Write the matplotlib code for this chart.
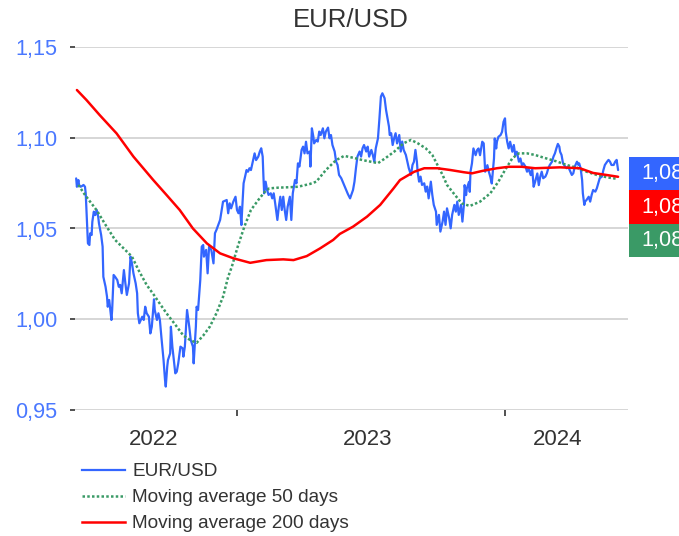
import matplotlib
matplotlib.use('Agg')
import matplotlib.pyplot as plt
from matplotlib import font_manager
from matplotlib.patches import Rectangle
from matplotlib.lines import Line2D
from matplotlib.ticker import FuncFormatter, FixedLocator
import pandas as pd

names = {f.name for f in font_manager.fontManager.ttflist}
if 'Liberation Sans Narrow' in names:
    FONT, K = 'Liberation Sans Narrow', 1.0
else:
    FONT, K = 'Liberation Sans', 0.82
plt.rcParams['font.family'] = [FONT, 'DejaVu Sans']

# ---------------- data ----------------
title = "EUR/USD"
series_labels = ["EUR/USD", "Moving average 50 days", "Moving average 200 days"]
year_labels = ["2022", "2023", "2024"]
year_label_dates = ["2022-09-09", "2023-06-28", "2024-03-13"]
year_boundaries = ["2023-01-01", "2024-01-01"]
y_ticks = [0.95, 1.00, 1.05, 1.10, 1.15]

eur_dates = [
    "2022-05-27", "2022-05-28", "2022-05-30", "2022-05-31", "2022-06-02", "2022-06-04", "2022-06-06",
    "2022-06-08", "2022-06-09", "2022-06-11", "2022-06-12", "2022-06-14", "2022-06-15", "2022-06-17",
    "2022-06-18", "2022-06-20", "2022-06-22", "2022-06-24", "2022-06-26", "2022-06-27", "2022-06-30",
    "2022-07-02", "2022-07-03", "2022-07-06", "2022-07-08", "2022-07-09", "2022-07-11", "2022-07-14",
    "2022-07-15", "2022-07-17", "2022-07-19", "2022-07-22", "2022-07-24", "2022-07-26", "2022-07-28",
    "2022-07-31", "2022-08-02", "2022-08-04", "2022-08-07", "2022-08-09", "2022-08-11", "2022-08-13",
    "2022-08-16", "2022-08-18", "2022-08-19", "2022-08-21", "2022-08-25", "2022-08-27", "2022-08-29",
    "2022-08-31", "2022-09-03", "2022-09-05", "2022-09-07", "2022-09-10", "2022-09-11", "2022-09-14",
    "2022-09-16", "2022-09-18", "2022-09-20", "2022-09-23", "2022-09-25", "2022-09-26", "2022-09-28",
    "2022-09-29", "2022-10-02", "2022-10-03", "2022-10-05", "2022-10-07", "2022-10-09", "2022-10-11",
    "2022-10-13", "2022-10-16", "2022-10-19", "2022-10-20", "2022-10-22", "2022-10-25", "2022-10-28",
    "2022-10-30", "2022-11-02", "2022-11-03", "2022-11-06", "2022-11-07", "2022-11-09", "2022-11-12",
    "2022-11-14", "2022-11-16", "2022-11-17", "2022-11-20", "2022-11-22", "2022-11-24", "2022-11-27",
    "2022-11-30", "2022-12-02", "2022-12-04", "2022-12-09", "2022-12-13", "2022-12-18", "2022-12-20",
    "2022-12-22", "2022-12-24", "2022-12-27", "2022-12-30",
    "2023-01-01", "2023-01-03", "2023-01-05", "2023-01-07", "2023-01-08", "2023-01-10", "2023-01-12",
    "2023-01-14", "2023-01-16", "2023-01-18", "2023-01-20", "2023-01-23", "2023-01-25", "2023-01-27",
    "2023-01-30", "2023-02-01", "2023-02-03", "2023-02-05", "2023-02-06", "2023-02-07", "2023-02-09",
    "2023-02-11", "2023-02-13", "2023-02-16", "2023-02-18", "2023-02-20", "2023-02-22", "2023-02-25",
    "2023-02-27", "2023-03-01", "2023-03-03", "2023-03-05", "2023-03-07", "2023-03-09", "2023-03-11",
    "2023-03-14", "2023-03-16", "2023-03-18", "2023-03-21", "2023-03-23", "2023-03-25", "2023-03-27",
    "2023-03-30", "2023-04-01", "2023-04-03", "2023-04-05", "2023-04-07", "2023-04-10", "2023-04-11",
    "2023-04-13", "2023-04-15", "2023-04-16", "2023-04-19", "2023-04-21", "2023-04-23", "2023-04-25",
    "2023-04-28", "2023-04-30", "2023-05-02", "2023-05-05", "2023-05-07", "2023-05-09", "2023-05-11",
    "2023-05-14", "2023-05-16", "2023-05-18", "2023-05-20", "2023-05-23", "2023-05-25", "2023-05-27",
    "2023-06-01", "2023-06-04", "2023-06-08", "2023-06-10", "2023-06-12", "2023-06-14", "2023-06-17",
    "2023-06-19", "2023-06-21", "2023-06-23", "2023-06-26", "2023-06-28", "2023-06-30", "2023-07-03",
    "2023-07-05", "2023-07-07", "2023-07-09", "2023-07-12", "2023-07-14", "2023-07-16", "2023-07-18",
    "2023-07-21", "2023-07-23", "2023-07-25", "2023-07-27", "2023-07-28", "2023-07-30", "2023-08-01",
    "2023-08-03", "2023-08-05", "2023-08-07", "2023-08-10", "2023-08-12", "2023-08-14", "2023-08-16",
    "2023-08-19", "2023-08-21", "2023-08-23", "2023-08-26", "2023-08-28", "2023-08-30", "2023-09-01",
    "2023-09-03", "2023-09-04", "2023-09-06", "2023-09-08", "2023-09-10", "2023-09-13", "2023-09-15",
    "2023-09-17", "2023-09-19", "2023-09-22", "2023-09-24", "2023-09-26", "2023-09-29", "2023-09-30",
    "2023-10-02", "2023-10-03", "2023-10-05", "2023-10-08", "2023-10-10", "2023-10-12", "2023-10-14",
    "2023-10-17", "2023-10-19", "2023-10-21", "2023-10-24", "2023-10-26", "2023-10-28", "2023-10-30",
    "2023-11-02", "2023-11-04", "2023-11-06", "2023-11-07", "2023-11-09", "2023-11-10", "2023-11-13",
    "2023-11-14", "2023-11-15", "2023-11-17", "2023-11-19", "2023-11-22", "2023-11-24", "2023-11-26",
    "2023-11-28", "2023-12-01", "2023-12-03", "2023-12-05", "2023-12-08", "2023-12-10", "2023-12-12",
    "2023-12-14", "2023-12-17", "2023-12-18", "2023-12-20", "2023-12-21", "2023-12-23", "2023-12-26",
    "2023-12-28", "2023-12-30",
    "2024-01-01", "2024-01-02", "2024-01-04", "2024-01-06", "2024-01-08", "2024-01-11", "2024-01-13",
    "2024-01-15", "2024-01-17", "2024-01-20", "2024-01-22", "2024-01-24", "2024-01-26", "2024-01-29",
    "2024-01-31", "2024-02-02", "2024-02-05", "2024-02-07", "2024-02-09", "2024-02-11", "2024-02-14",
    "2024-02-16", "2024-02-18", "2024-02-20", "2024-02-22", "2024-02-25", "2024-02-27", "2024-02-29",
    "2024-03-02", "2024-03-05", "2024-03-07", "2024-03-09", "2024-03-11", "2024-03-13", "2024-03-15",
    "2024-03-16", "2024-03-18", "2024-03-20", "2024-03-23", "2024-03-25", "2024-03-27", "2024-03-30",
    "2024-04-01", "2024-04-03", "2024-04-05", "2024-04-08", "2024-04-10", "2024-04-11", "2024-04-13",
    "2024-04-15", "2024-04-16", "2024-04-18", "2024-04-19", "2024-04-21", "2024-04-24", "2024-04-26",
    "2024-04-28", "2024-04-30", "2024-05-03", "2024-05-05", "2024-05-07", "2024-05-09", "2024-05-12",
    "2024-05-14", "2024-05-16", "2024-05-19", "2024-05-21", "2024-05-23", "2024-05-25", "2024-05-28",
    "2024-05-30", "2024-06-01", "2024-06-03",
]
eur_values = [
    1.0776, 1.0730, 1.0767, 1.0740, 1.0730, 1.0734, 1.0740,
    1.0730, 1.0694, 1.0510, 1.0418, 1.0409, 1.0473, 1.0464,
    1.0537, 1.0593, 1.0574, 1.0602, 1.0565, 1.0529, 1.0464,
    1.0400, 1.0234, 1.0179, 1.0124, 1.0069, 1.0106, 0.9996,
    1.0051, 1.0244, 1.0234, 1.0216, 1.0179, 1.0189, 1.0143,
    1.0271, 1.0198, 1.0134, 1.0198, 1.0345, 1.0308, 1.0253,
    1.0198, 1.0143, 1.0033, 0.9978, 1.0014, 0.9996, 1.0069,
    1.0033, 1.0014, 0.9922, 0.9959, 1.0110, 1.0051, 0.9996,
    1.0033, 0.9996, 0.9904, 0.9775, 0.9665, 0.9629, 0.9739,
    0.9775, 0.9812, 0.9959, 0.9849, 0.9775, 0.9702, 0.9711,
    0.9757, 0.9849, 0.9840, 0.9794, 0.9849, 1.0051, 0.9959,
    0.9886, 0.9849, 0.9757, 0.9959, 1.0069, 1.0051, 1.0216,
    1.0400, 1.0409, 1.0345, 1.0382, 1.0253, 1.0400, 1.0382,
    1.0308, 1.0474, 1.0492, 1.0547, 1.0648, 1.0657, 1.0584,
    1.0639, 1.0611, 1.0648, 1.0675,
    1.0602, 1.0584, 1.0620, 1.0519, 1.0602, 1.0749, 1.0786,
    1.0822, 1.0813, 1.0832, 1.0822, 1.0877, 1.0914, 1.0877,
    1.0896, 1.0923, 1.0942, 1.0896, 1.0786, 1.0694, 1.0758,
    1.0712, 1.0685, 1.0694, 1.0666, 1.0694, 1.0639, 1.0547,
    1.0620, 1.0675, 1.0602, 1.0675, 1.0602, 1.0547, 1.0620,
    1.0675, 1.0547, 1.0694, 1.0767, 1.0749, 1.0859, 1.0841,
    1.0933, 1.0951, 1.0914, 1.0978, 1.0914, 1.0924, 1.0841,
    1.1052, 1.1006, 1.0969, 1.0988, 1.0979, 1.1034, 1.1015,
    1.1052, 1.0997, 1.1034, 1.1056, 1.0997, 1.1015, 1.0960,
    1.0924, 1.0868, 1.0850, 1.0795, 1.0777, 1.0758, 1.0740,
    1.0690, 1.0666, 1.0712, 1.0758, 1.0832, 1.0896, 1.0924,
    1.0896, 1.0942, 1.0960, 1.0924, 1.0951, 1.0896, 1.0933,
    1.0905, 1.0868, 1.0942, 1.0997, 1.1107, 1.1227, 1.1245,
    1.1218, 1.1153, 1.1107, 1.1061, 1.1015, 1.1025, 1.0960,
    1.0997, 1.1025, 1.0969, 1.1015, 1.0924, 1.0979, 1.0933,
    1.0905, 1.0868, 1.0832, 1.0795, 1.0850, 1.0868, 1.0933,
    1.0868, 1.0813, 1.0758, 1.0786, 1.0740, 1.0749, 1.0703,
    1.0731, 1.0666, 1.0758, 1.0685, 1.0630, 1.0593, 1.0520,
    1.0556, 1.0575, 1.0483, 1.0538, 1.0593, 1.0520, 1.0611,
    1.0556, 1.0501, 1.0575, 1.0630, 1.0593, 1.0648, 1.0575,
    1.0630, 1.0538, 1.0629, 1.0739, 1.0684, 1.0721, 1.0757,
    1.0702, 1.0813, 1.0859, 1.0941, 1.0904, 1.0932, 1.0941,
    1.0904, 1.0978, 1.0969, 1.0813, 1.0849, 1.0813, 1.0785,
    1.0748, 1.0886, 1.0996, 1.0941, 1.0978, 1.1005, 1.1015,
    1.1033, 1.1088,
    1.1107, 1.1033, 1.0978, 1.0941, 1.0978, 1.0923, 1.0960,
    1.0904, 1.0923, 1.0868, 1.0886, 1.0849, 1.0859, 1.0840,
    1.0813, 1.0831, 1.0794, 1.0831, 1.0730, 1.0757, 1.0803,
    1.0739, 1.0785, 1.0813, 1.0777, 1.0786, 1.0804, 1.0832,
    1.0850, 1.0868, 1.0896, 1.0914, 1.0942, 1.0966, 1.0951,
    1.0923, 1.0905, 1.0859, 1.0841, 1.0832, 1.0841, 1.0813,
    1.0795, 1.0804, 1.0841, 1.0868, 1.0850, 1.0859, 1.0832,
    1.0767, 1.0694, 1.0630, 1.0648, 1.0657, 1.0675, 1.0648,
    1.0685, 1.0712, 1.0703, 1.0721, 1.0749, 1.0777, 1.0786,
    1.0822, 1.0850, 1.0868, 1.0878, 1.0868, 1.0850, 1.0850,
    1.0868, 1.0878, 1.0822,
]

ma50_dates = [
    "2022-05-30", "2022-06-08", "2022-06-24", "2022-07-06", "2022-07-19", "2022-08-02", "2022-08-11",
    "2022-08-20", "2022-08-31", "2022-09-10", "2022-09-16", "2022-09-27", "2022-10-09", "2022-10-20",
    "2022-10-29", "2022-11-07", "2022-11-16", "2022-11-25", "2022-12-04", "2022-12-13", "2022-12-20",
    "2022-12-25", "2023-01-02", "2023-01-11", "2023-01-20", "2023-01-30", "2023-02-08", "2023-02-14",
    "2023-02-26", "2023-03-11", "2023-03-25", "2023-04-10", "2023-04-19", "2023-05-02", "2023-05-16",
    "2023-05-27", "2023-06-08", "2023-06-21", "2023-07-12", "2023-07-23", "2023-08-03", "2023-08-16",
    "2023-08-26", "2023-09-04", "2023-09-15", "2023-09-24", "2023-10-01", "2023-10-08", "2023-10-14",
    "2023-10-23", "2023-11-03", "2023-11-14", "2023-11-28", "2023-12-12", "2023-12-23", "2024-01-01",
    "2024-01-11", "2024-01-20", "2024-01-31", "2024-02-11", "2024-02-23", "2024-03-11", "2024-03-25",
    "2024-04-08", "2024-04-21", "2024-05-05", "2024-05-19", "2024-06-01",
]
ma50_values = [
    1.0740, 1.0685, 1.0600, 1.0520, 1.0437, 1.0381, 1.0345,
    1.0270, 1.0189, 1.0133, 1.0097, 1.0033, 0.9970, 0.9910,
    0.9886, 0.9870, 0.9910, 0.9959, 1.0033, 1.0124, 1.0234,
    1.0290, 1.0400, 1.0510, 1.0602, 1.0657, 1.0703, 1.0721,
    1.0725, 1.0727, 1.0730, 1.0745, 1.0758, 1.0822, 1.0877,
    1.0900, 1.0890, 1.0877, 1.0860, 1.0890, 1.0923, 1.0970,
    1.0988, 1.0970, 1.0942, 1.0905, 1.0850, 1.0795, 1.0740,
    1.0694, 1.0639, 1.0624, 1.0648, 1.0694, 1.0758, 1.0822,
    1.0887, 1.0914, 1.0914, 1.0905, 1.0890, 1.0870, 1.0850,
    1.0835, 1.0813, 1.0795, 1.0782, 1.0774,
]

ma200_dates = [
    "2022-05-28", "2022-06-10", "2022-06-28", "2022-07-21", "2022-08-13", "2022-09-09", "2022-09-27",
    "2022-10-15", "2022-11-02", "2022-11-21", "2022-12-09", "2022-12-27", "2023-01-19", "2023-02-10",
    "2023-03-05", "2023-03-19", "2023-04-06", "2023-04-24", "2023-05-12", "2023-05-21", "2023-06-08",
    "2023-06-27", "2023-07-15", "2023-08-02", "2023-08-11", "2023-08-30", "2023-09-13", "2023-10-01",
    "2023-10-19", "2023-11-06", "2023-11-17", "2023-12-02", "2023-12-21", "2024-01-06", "2024-01-24",
    "2024-02-11", "2024-03-16", "2024-04-12", "2024-04-30", "2024-05-18", "2024-06-03",
]
ma200_values = [
    1.1263, 1.1208, 1.1125, 1.1024, 1.0896, 1.0767, 1.0685,
    1.0602, 1.0500, 1.0418, 1.0363, 1.0336, 1.0311, 1.0326,
    1.0330, 1.0326, 1.0348, 1.0390, 1.0437, 1.0470, 1.0510,
    1.0565, 1.0630, 1.0720, 1.0767, 1.0812, 1.0832, 1.0832,
    1.0822, 1.0810, 1.0804, 1.0818, 1.0832, 1.0840, 1.0840,
    1.0832, 1.0837, 1.0832, 1.0806, 1.0795, 1.0785,
]

# ---------------- style ----------------
BLUE = '#3366ff'
TICKBLUE = '#4a78ff'
RED = '#ff0000'
GREEN = '#3a9a66'
DARK = '#333333'
GRID = '#d0d0d0'

FS_TICK = 19 * K
FS_YEAR = 19.5 * K
FS_LEG = 16.7 * K
FS_TITLE = 22.6 * K

W, H = 679, 536
fig = plt.figure(figsize=(W / 100, H / 100), dpi=100)
ax = fig.add_axes([75 / W, 1 - 410 / H, (628 - 75) / W, (410 - 47) / H])

styles = [
    dict(color=BLUE, lw=1.6, linestyle='-'),
    dict(color=GREEN, lw=1.8, linestyle=(0, (1, 0.9))),
    dict(color=RED, lw=1.8, linestyle='-'),
]
series = [(eur_dates, eur_values), (ma50_dates, ma50_values), (ma200_dates, ma200_values)]
for (d, v), st, z in zip(series, styles, [3, 4, 5]):
    ax.plot(pd.to_datetime(d), v, zorder=z, solid_capstyle='round', **st)

ref = pd.Timestamp(year_boundaries[0])
ax.set_xlim(ref - pd.Timedelta(days=220.6), ref + pd.Timedelta(days=532.5))
ax.set_ylim(y_ticks[0], y_ticks[-1])

for s in ax.spines.values():
    s.set_visible(False)

ax.set_yticks(y_ticks)
ax.yaxis.set_major_formatter(FuncFormatter(lambda v, p: f"{v:.2f}".replace('.', ',')))
ax.tick_params(axis='y', length=3.5, width=1.2, color=DARK, pad=9, labelsize=FS_TICK, labelcolor=TICKBLUE)
ax.yaxis.grid(True, color=GRID, lw=1.2, zorder=0)
ax.set_axisbelow(True)

bnd = matplotlib.dates.date2num(pd.to_datetime(year_boundaries))
ax.xaxis.set_major_locator(FixedLocator(bnd))
ax.xaxis.set_major_formatter(FuncFormatter(lambda v, p: ''))
lbl = matplotlib.dates.date2num(pd.to_datetime(year_label_dates))
ax.set_xticks(lbl, minor=True)
ax.set_xticklabels(year_labels, minor=True)
ax.tick_params(axis='x', which='major', length=4, width=1.2, color=DARK, direction='out')
ax.tick_params(axis='x', which='minor', length=0, pad=14, labelsize=FS_YEAR, labelcolor=DARK)

fig.text(350.5 / W, 1 - 20 / H, title, ha='center', va='center', fontsize=FS_TITLE, color=DARK)

# last-value boxes on the right
last_vals = [eur_values[-1], ma200_values[-1], ma50_values[-1]]
box_cols = [BLUE, RED, GREEN]
box_tops = [157, 190, 224]
box_h = [33, 34, 33]
for val, col, top, h in zip(last_vals, box_cols, box_tops, box_h):
    fig.add_artist(Rectangle((629 / W, 1 - (top + h) / H), 60 / W, h / H,
                             transform=fig.transFigure, color=col, lw=0))
    fig.text(641 / W, 1 - (top + h / 2) / H, f"{val:.2f}".replace('.', ','),
             ha='left', va='center', fontsize=FS_TICK, color='white')

# legend
leg_y = [470, 496, 522]
for lab, st, y in zip(series_labels, styles, leg_y):
    fig.add_artist(Line2D([82 / W, 125 / W], [1 - y / H, 1 - y / H], transform=fig.transFigure, **st))
    fig.text(132 / W, 1 - (y + 1) / H, lab, ha='left', va='center', fontsize=FS_LEG, color=DARK)

fig.savefig('out.png', dpi=100)
